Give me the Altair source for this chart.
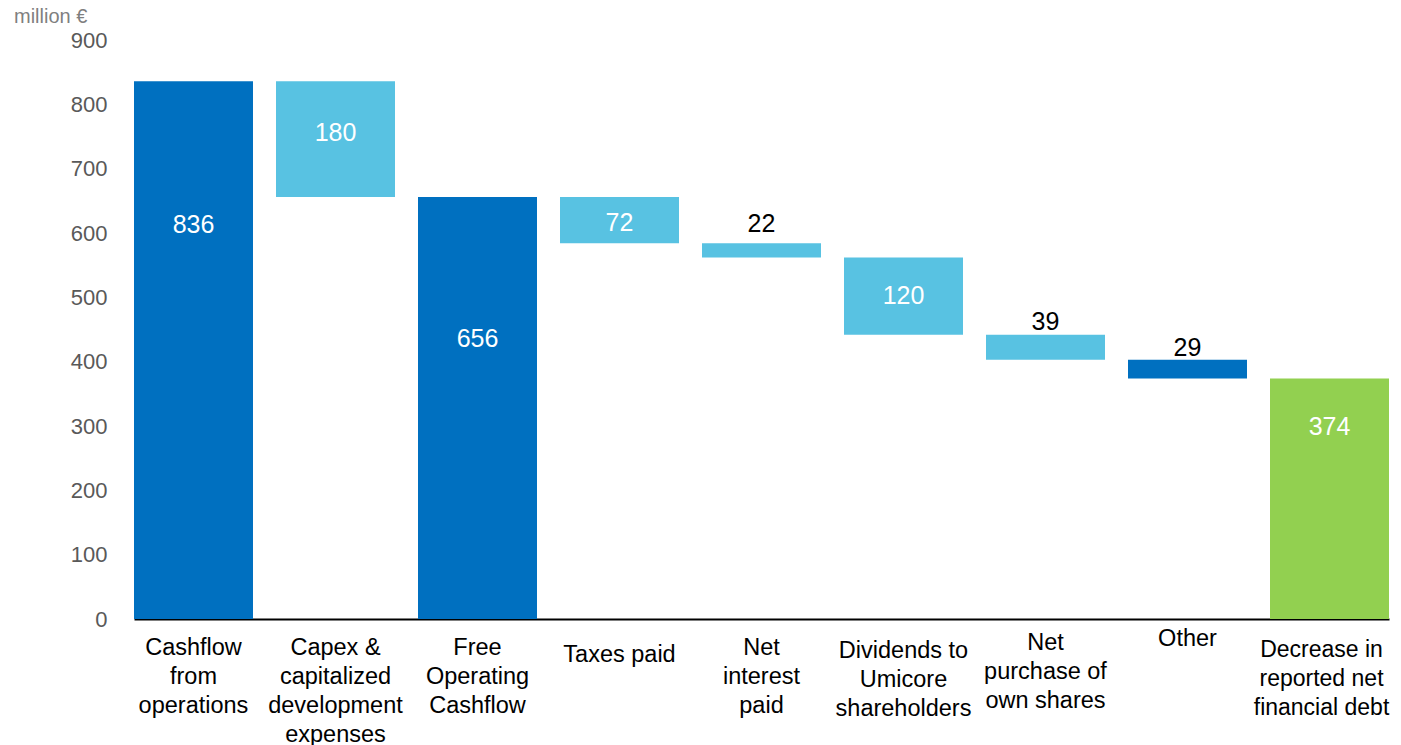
import altair as alt
import pandas as pd

categories = [
    "Cashflow\nfrom\noperations",
    "Capex &\ncapitalized\ndevelopment\nexpenses",
    "Free\nOperating\nCashflow",
    "Taxes paid",
    "Net\ninterest\npaid",
    "Dividends to\nUmicore\nshareholders",
    "Net\npurchase of\nown shares",
    "Other",
    "Decrease in\nreported net\nfinancial debt",
]
values = [836, 180, 656, 72, 22, 120, 39, 29, 374]
kinds = ["total", "delta", "total", "delta", "delta", "delta", "delta", "other", "result"]
label_outside = [False, False, False, False, True, False, True, True, False]
# centre of each value label (in million €)
label_at = [613, 755, 435, 616, 614, 502, 461, 422, 299]

rows = []
level = 0
for cat, v, k, out, la in zip(categories, values, kinds, label_outside, label_at):
    if k in ("total", "result"):
        start, end = 0, v
        level = v
    else:
        start, end = level - v, level
        level = level - v
    rows.append({"cat": cat, "start": start, "end": end, "val": v, "kind": k,
                 "pos": la, "outside": out})
df = pd.DataFrame(rows)

color_scale = alt.Scale(domain=["total", "delta", "other", "result"],
                        range=["#0070C0", "#58C2E2", "#0070C0", "#92D050"])

label_pad = {
    "condition": [
        {"test": "indexof(datum.value, 'Taxes') >= 0", "value": 35},
        {"test": "indexof(datum.value, 'Dividends') >= 0", "value": 31},
        {"test": "indexof(datum.value, 'purchase') >= 0", "value": 23},
        {"test": "datum.value == 'Other'", "value": 19},
        {"test": "indexof(datum.value, 'Decrease') >= 0", "value": 30},
    ],
    "value": 28,
}
label_off = {
    "condition": {"test": "indexof(datum.value, 'Decrease') >= 0", "value": -8},
    "value": 0,
}
label_size = {
    "condition": {"test": "indexof(datum.value, 'Decrease') >= 0", "value": 23},
    "value": 23.5,
}

x = alt.X("cat:N", sort=categories, title=None,
          scale=alt.Scale(paddingInner=0.162, paddingOuter=0),
          axis=alt.Axis(labelAngle=0, labelExpr="split(datum.label, '\\n')",
                        labelFont="Liberation Sans", labelFontSize=label_size, labelColor="#000000",
                        labelLineHeight=29, labelBaseline="middle", labelPadding=label_pad,
                        labelOffset=label_off,
                        domainColor="#000000", domainWidth=2, ticks=False, labelLimit=0,
                        zindex=0))

bars = alt.Chart(df).mark_bar().encode(
    x=x,
    y=alt.Y("start:Q", title=None,
            scale=alt.Scale(domain=[0, 900], nice=False),
            axis=alt.Axis(values=list(range(0, 901, 100)), grid=False, domain=False, ticks=False,
                          labelFont="Liberation Sans", labelFontSize=22, labelColor="#595959",
                          labelPadding=27)),
    y2="end:Q",
    color=alt.Color("kind:N", scale=color_scale, legend=None),
)

inside = alt.Chart(df).transform_filter("!datum.outside").mark_text(
    font="Liberation Sans", fontSize=25, color="white", baseline="middle"
).encode(x=alt.X("cat:N", sort=categories), y=alt.Y("pos:Q"), text="val:Q")

outside = alt.Chart(df).transform_filter("datum.outside").mark_text(
    font="Liberation Sans", fontSize=25, color="black", baseline="middle"
).encode(x=alt.X("cat:N", sort=categories), y=alt.Y("pos:Q"), text="val:Q")

unit = alt.Chart(pd.DataFrame({"t": ["million €"]})).mark_text(
    font="Liberation Sans", fontSize=20, color="#7F7F7F", align="left", baseline="middle"
).encode(x=alt.value(-120), y=alt.value(-23), text="t:N")

chart = alt.layer(bars, inside, outside, unit).properties(
    width=1255, height=579,
    padding={"left": 126, "top": 32, "right": 4, "bottom": 126},
    autosize=alt.AutoSizeParams(type="none"),
).configure_view(stroke=None)

chart.save("out.html", embed_options={"renderer": "svg", "actions": False})
